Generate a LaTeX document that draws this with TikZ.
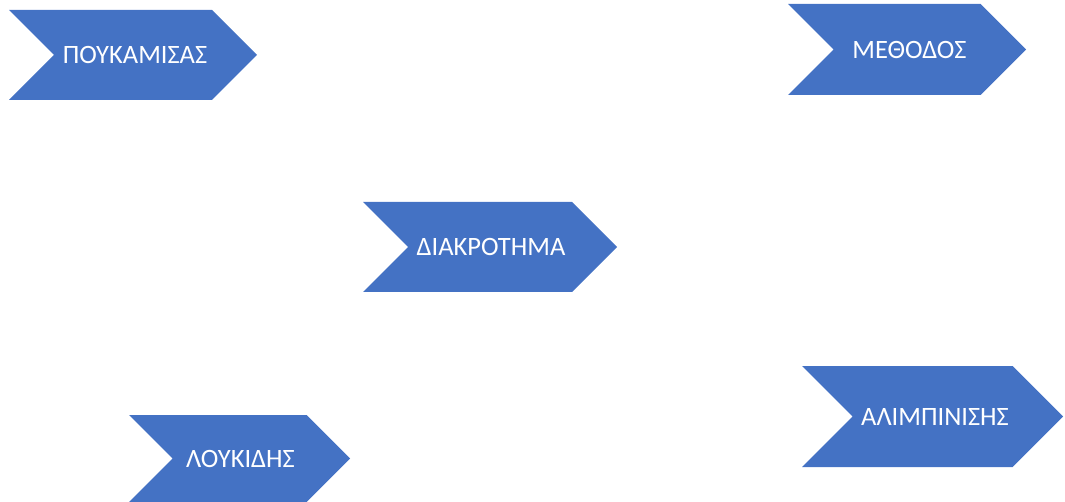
\documentclass[tikz,border=0pt]{standalone}
\usepackage{fontspec}
\setmainfont{Carlito}
\definecolor{offblue}{HTML}{4472C4}
\tikzset{
  chevfill/.style={fill=offblue, draw=none},
  chevlabel/.style={text=white, font=\fontsize{26.5}{29}\selectfont, inner sep=0pt}
}
% #1 left, #2 tip, #3 center y, #4 half height
\newcommand\mychev[4]{%
  \fill[chevfill] (#1,#3+#4) -- (#2-#4,#3+#4) -- (#2,#3) -- (#2-#4,#3-#4)
     -- (#1,#3-#4) -- (#1+#4,#3) -- cycle;}
\begin{document}
\begin{tikzpicture}[x=1pt,y=1pt]
\useasboundingbox (0,0) rectangle (1065,501);
\mychev{9}{257}{446}{45}
\node[chevlabel] (poukamisas) at (135,446) {ΠΟΥΚΑΜΙΣΑΣ};
\mychev{788}{1026}{451.5}{45.5}
\node[chevlabel] (methodos) at (909.5,451.5) {ΜΕΘΟΔΟΣ};
\mychev{363}{617}{254}{45}
\node[chevlabel] (diakrotima) at (491,254) {ΔΙΑΚΡΟΤΗΜΑ};
\mychev{129}{350}{42.5}{43.5}
\node[chevlabel] (loukidis) at (240.5,42.5) {ΛΟΥΚΙΔΗΣ};
\mychev{802}{1063}{84.5}{50.5}
\node[chevlabel] (alimpinisis) at (935,84.5) {ΑΛΙΜΠΙΝΙΣΗΣ};
\end{tikzpicture}
\end{document}
